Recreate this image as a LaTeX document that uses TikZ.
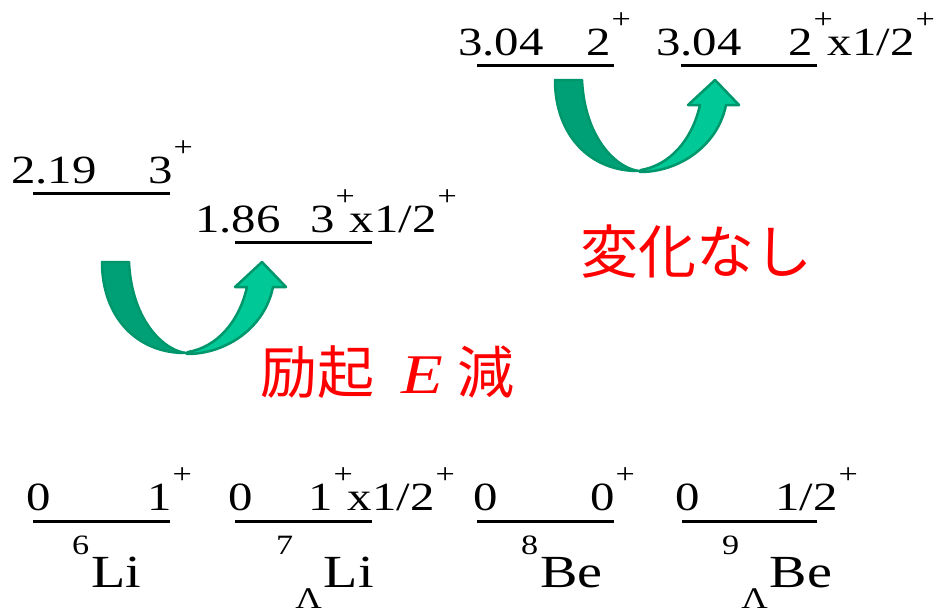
\documentclass[tikz,border=0pt]{standalone}
\usepackage{fontspec}
\setmainfont[FakeStretch=1.22]{Liberation Serif}
\newfontfamily\jpfont{Noto Sans CJK JP}
\newcommand\pl{\kern1pt\raisebox{27pt}{\fontsize{28}{28}\selectfont +}\kern-5pt}
\newcommand\presup[1]{\raisebox{33pt}{\fontsize{28}{28}\selectfont #1}\kern2pt}
\newcommand\presub{\raisebox{-21pt}{\fontsize{30}{30}\selectfont Λ}\kern2pt}
\definecolor{darkg}{RGB}{0,160,118}
\definecolor{lightg}{RGB}{0,200,150}
\definecolor{edgeg}{RGB}{0,150,108}
\begin{document}
\begin{tikzpicture}[x=1pt,y=-1pt,
  lvl/.style={inner sep=0pt, anchor=base west, font=\fontsize{40}{48}\selectfont},
  nuc/.style={inner sep=0pt, anchor=base west, font=\fontsize{46}{54}\selectfont},
  note/.style={inner sep=0pt, anchor=base west, text=red},
  level/.style={line width=3pt},
  uturn/.pic={
    \filldraw[fill=darkg, draw=edgeg, line width=2.5pt, line join=round]
      (0,0) -- (27,0) .. controls (30,62) and (65,90) .. (85,91)
      .. controls (35,92) and (0,55) .. (0,0) -- cycle;
    \filldraw[fill=lightg, draw=edgeg, line width=2.5pt, line join=round]
      (85,92) .. controls (125,92) and (163,65) .. (171,25)
      -- (184,25) -- (160,0) -- (133,25) -- (145,25)
      .. controls (137,60) and (115,85) .. (86,90) -- cycle;
  }]
\fill[white] (0,0) rectangle (934,613);
\useasboundingbox (0,0) rectangle (934,613);

% level lines
\coordinate (a1) at (33,521);  \coordinate (a2) at (170,521);
\coordinate (b1) at (235,521); \coordinate (b2) at (372,521);
\coordinate (c1) at (477,521); \coordinate (c2) at (614,521);
\coordinate (d1) at (682,521); \coordinate (d2) at (817,521);
\coordinate (e1) at (33,193);  \coordinate (e2) at (170,193);
\coordinate (f1) at (235,242); \coordinate (f2) at (372,242);
\coordinate (g1) at (477,65);  \coordinate (g2) at (614,65);
\coordinate (h1) at (681,65);  \coordinate (h2) at (817,65);
\foreach \p in {a,b,c,d,e,f,g,h} \draw[level] (\p1) -- (\p2);

% level labels
\node[lvl] (t1) at (458,55) {3.04};
\node[lvl] (t2) at (586,55) {2\pl};
\node[lvl] (t3) at (656,55) {3.04};
\node[lvl] (t4) at (788,55) {2\pl x1/2\pl};

\node[lvl] (t5) at (11,183) {2.19};
\node[lvl] (t6) at (148,183) {3\pl};
\node[lvl] (t7) at (195,232) {1.86};
\node[lvl] (t8) at (310,232) {3\pl x1/2\pl};

\node[lvl] (g1l) at (26,510) {0};
\node[lvl] (g1r) at (147,510) {1\pl};
\node[lvl] (g2l) at (228,510) {0};
\node[lvl] (g2r) at (308,510) {1\pl x1/2\pl};
\node[lvl] (g3l) at (473,510) {0};
\node[lvl] (g3r) at (590,510) {0\pl};
\node[lvl] (g4l) at (675,510) {0};
\node[lvl] (g4r) at (775,510) {1/2\pl};

% nuclide names
\node[nuc] (n1) at (72,587) {\presup{6}Li};
\node[nuc] (n2) at (276,587) {\presup{7}\presub Li};
\node[nuc] (n3) at (521,587) {\presup{8}Be};
\node[nuc] (n4) at (722,587) {\presup{9}\presub Be};

% arrows
\pic at (555,80) {uturn};
\pic at (102,262) {uturn};

% notes
\node[note] (m1) at (580,273) {\fontsize{58}{60}\selectfont\jpfont 変化なし};
\node[note] (m2) at (260,393) {\fontsize{57}{60}\selectfont{\jpfont 励起}\kern27pt{\fontsize{56}{60}\selectfont\itshape E}\kern15pt{\jpfont 減}};
\end{tikzpicture}
\end{document}
